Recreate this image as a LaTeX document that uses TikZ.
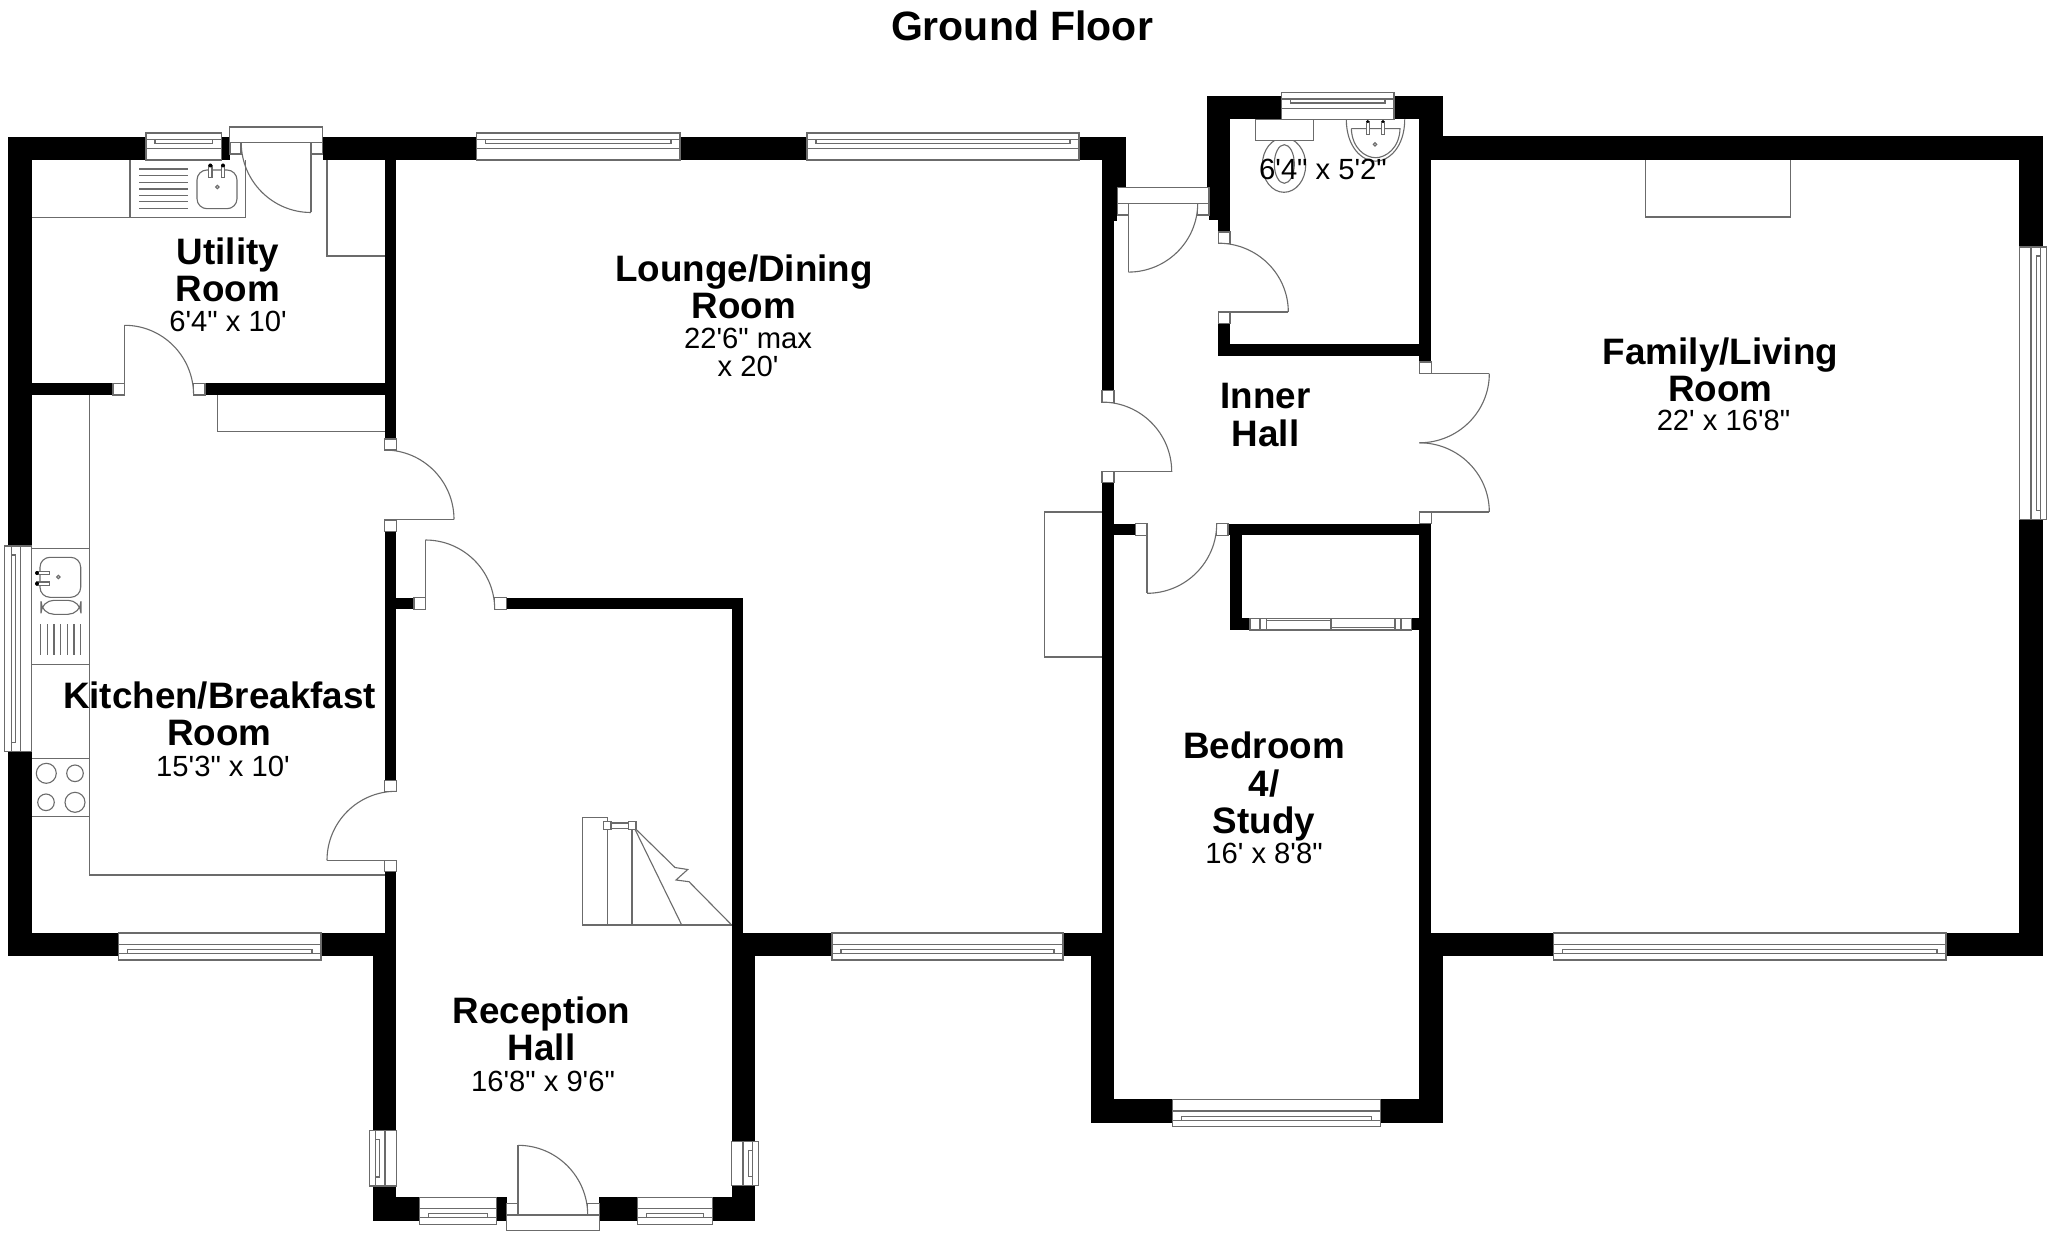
\documentclass[tikz,border=0pt]{standalone}
\usepackage{fontspec}
\newfontfamily\lab{Liberation Sans}
\usetikzlibrary{calc}
\definecolor{fix}{gray}{0.42}
\newcommand{\roomfont}{\lab\bfseries\fontsize{18.4}{18.6}\selectfont}
\newcommand{\dimfont}{\lab\fontsize{14.6}{15}\selectfont}
\tikzset{
  fixt/.style={draw=fix,line width=0.55pt,fill=white},
  fixl/.style={draw=fix,line width=0.55pt},
  roomlabel/.style={align=center,inner sep=0pt,font=\roomfont,text=black},
  dimlabel/.style={inner sep=0pt,font=\dimfont,text=black}
}
\newcommand{\wall}[4]{\fill[black] (#1,#2) rectangle (#3,#4);}
\newcommand{\jamb}[4]{\draw[fixt] (#1,#2) rectangle (#3,#4);}
% quarter arc from (1,2) to (3,4) about (5,6)
\newcommand{\qarc}[6]{%
  \pgfmathsetmacro\qax{#1+0.5523*(#3-#5)}\pgfmathsetmacro\qay{#2+0.5523*(#4-#6)}%
  \pgfmathsetmacro\qbx{#3+0.5523*(#1-#5)}\pgfmathsetmacro\qby{#4+0.5523*(#2-#6)}%
  \draw[fixl] (#1,#2) .. controls (\qax,\qay) and (\qbx,\qby) .. (#3,#4);}
% door: hinge (1,2), leaf tip (3,4), latch end (5,6)
\newcommand{\door}[6]{\draw[fixl] (#1,#2) -- (#3,#4);\qarc{#3}{#4}{#5}{#6}{#1}{#2}}
% horizontal window: x1 x2 outer-y sign
\newcommand{\hwin}[4]{%
  \pgfmathsetmacro\wina{#3+6.5*#4}\pgfmathsetmacro\winb{#3+10.5*#4}\pgfmathsetmacro\winc{#3+15.7*#4}\pgfmathsetmacro\wind{#3+27*#4}%
  \pgfmathsetmacro\winl{#1+9}\pgfmathsetmacro\winr{#2-9}%
  \draw[fixt] (#1,#3) rectangle (#2,\wind);\draw[fixt] (#1,\wina) rectangle (#2,\winc);\draw[fixt] (\winl,\wina) rectangle (\winr,\winb);}
% vertical window: y1 y2 outer-x sign
\newcommand{\vwin}[4]{%
  \pgfmathsetmacro\wina{#3+6.5*#4}\pgfmathsetmacro\winb{#3+10.5*#4}\pgfmathsetmacro\winc{#3+15.7*#4}\pgfmathsetmacro\wind{#3+27*#4}%
  \pgfmathsetmacro\winl{#1+9}\pgfmathsetmacro\winr{#2-9}%
  \draw[fixt] (#3,#1) rectangle (\wind,#2);\draw[fixt] (\wina,#1) rectangle (\winc,#2);\draw[fixt] (\wina,\winl) rectangle (\winb,\winr);}
\begin{document}
\begin{tikzpicture}[x=0.5pt,y=-0.5pt]
\useasboundingbox (0,0) rectangle (2048,1235);
\fill[white] (0,0) rectangle (2048,1235);
% ---- fixtures under the walls
\draw[fixl] (32,217.7) -- (245.7,217.7) -- (245.7,160);
\draw[fixl] (130,160) -- (130,217.7);
\foreach \yy in {169,175.7,182.3,189,195.7,201.7,208.3} \draw[fixl] (139,\yy) -- (188,\yy);
\draw[fixl,rounded corners=5pt] (197,170) rectangle (237,208.7);
\foreach \xx in {210.3,223} {\draw[fixt] (\xx-1.7,166) rectangle (\xx+1.7,177.5);\fill[black] (\xx,165.5) circle[radius=2];}
\draw[fixl] (217.3,187) circle[radius=1.7];
\draw[fixl] (327,160) -- (327,256) -- (385,256);
\draw[fixl] (217.3,395) -- (217.3,431.3) -- (385,431.3);
\draw[fixl] (89.7,395) -- (89.7,875) -- (385,875);
\draw[fixl] (32,548.3) -- (89.7,548.3);
\draw[fixl] (32,664.3) -- (89.7,664.3);
\draw[fixl] (32,758.7) -- (89.7,758.7);
\draw[fixl] (32,816.7) -- (89.7,816.7);
\draw[fixl,rounded corners=5pt] (40,557.3) rectangle (80.7,597.3);
\foreach \yy in {573,583.7} {\draw[fixt] (37,\yy-1.7) rectangle (49.7,\yy+1.7);\fill[black] (37,\yy) circle[radius=2];}
\draw[fixl] (58.3,577) circle[radius=1.7];
\draw[fixl,rounded corners=6.5pt] (41,600.3) rectangle (81,614.3);
\foreach \xx in {40.7,47.3,54,60.7,67.3,74,80.7} \draw[fixl] (\xx,624) -- (\xx,655.3);
\draw[fixl] (46.3,773.3) circle[radius=10];
\draw[fixl] (75,773.3) circle[radius=8.3];
\draw[fixl] (46,802.3) circle[radius=8.3];
\draw[fixl] (75,802.3) circle[radius=10];
% chimney breasts
\draw[fixl] (1102,512) -- (1044.8,512) -- (1044.8,657) -- (1102,657);
\draw[fixl] (1645.6,160) -- (1645.6,217) -- (1790.5,217) -- (1790.5,160);
% WC
\draw[fixl] (1284,165) ellipse[x radius=21.7,y radius=27.3];
\draw[fixl] (1284.3,164) ellipse[x radius=10,y radius=19.3];
\draw[fixt] (1255.7,119.3) rectangle (1313.3,140.3);
\draw[fixl] (1346.3,119.3) .. controls (1346.3,147) and (1362,161.2) .. (1375.5,161.2) .. controls (1389,161.2) and (1404.7,147) .. (1404.7,119.3);
\draw[fixl] (1351.3,128.6) -- (1400,128.6) .. controls (1399.5,148) and (1386,157.7) .. (1375.5,157.7) .. controls (1365,157.7) and (1352,148) .. (1351.3,128.6);
\foreach \xx in {1367.7,1383} {\draw[fixt] (\xx-1.5,122) rectangle (\xx+1.5,134.3);\fill[black] (\xx,121.5) circle[radius=1.7];}
\draw[fixl] (1375,144.3) circle[radius=1.7];
% stairs
\draw[fixl] (607.3,817.3) -- (582.7,817.3) -- (582.7,925) -- (731.7,925);
\draw[fixl] (607.3,817.3) -- (607.3,925);
\draw[fixl] (632,829.3) -- (632,925);
\draw[fixl] (634,827.3) -- (681.7,925);
\draw[fixl] (636,829.3) -- (675,867.5) -- (687.7,869.5) -- (676,880) -- (689,881.7) -- (731.7,925);
\draw[fixl] (611,823) -- (628.3,823);
\draw[fixl] (611,828.5) -- (628.3,828.5);
\jamb{603.3}{821.7}{611}{829.3}
\jamb{628.3}{821.7}{636}{829.3}
% ---- walls
\wall{8}{136.7}{32}{546}
\wall{8}{751.7}{32}{956}
\wall{8}{136.7}{146}{160}
\wall{221.7}{136.7}{229.5}{160}
\wall{322.5}{136.7}{476.7}{160}
\wall{680}{136.7}{807}{160}
\wall{1079}{136.7}{1125.7}{160}
\wall{1101.7}{136.7}{1125.7}{188}
\wall{1101.7}{188}{1117.3}{221}
\wall{1102}{188}{1114}{390.7}
\wall{1102}{482.9}{1114.2}{933}
\wall{384.7}{160}{396.3}{439}
\wall{32}{383.3}{113}{395}
\wall{205}{383.3}{385}{395}
\wall{384.7}{531.7}{396.3}{780.3}
\wall{396}{597.7}{414}{609.3}
\wall{506.3}{597.7}{743.3}{609.3}
\wall{731.7}{609}{743.3}{933.3}
\wall{8}{932.7}{118.3}{956}
\wall{321}{932.7}{396.3}{956}
\wall{384.7}{871.7}{396.3}{932.7}
\wall{372.7}{956}{396.3}{1130.7}
\wall{372.7}{1186}{396.3}{1220.7}
\wall{372.7}{1197.3}{419.3}{1220.7}
\wall{496.3}{1197.3}{506.7}{1220.7}
\wall{599}{1197.3}{637.3}{1220.7}
\wall{712.3}{1197.3}{755}{1220.7}
\wall{731.7}{1185.3}{755}{1220.7}
\wall{731.7}{933.3}{755}{1141.7}
\wall{731.7}{933.3}{832}{956}
\wall{1063}{932.7}{1102.2}{956}
\wall{1091}{932.7}{1114.2}{1122.7}
\wall{1091}{1099.3}{1172.8}{1122.7}
\wall{1380.7}{1099.3}{1443.1}{1122.7}
\wall{1419.2}{932.7}{1443.1}{1122.7}
\wall{1419.2}{535.4}{1431.1}{933}
\wall{1431.1}{932.7}{1553.4}{956}
\wall{1946}{932.7}{2042.7}{956}
\wall{2019.3}{519.3}{2042.7}{956}
\wall{2019.3}{136.7}{2042.7}{247}
\wall{1431}{136.5}{2042.7}{160.2}
\wall{1419.3}{96}{1442.7}{160.2}
\wall{1419.3}{160}{1431.3}{362}
\wall{1394}{96}{1442.7}{119.3}
\wall{1207}{96}{1281.7}{119.3}
\wall{1207}{96}{1230}{188}
\wall{1209}{188}{1230}{220.4}
\wall{1218.3}{220}{1230}{232}
\wall{1218.3}{323.6}{1230}{356}
\wall{1218.3}{343.6}{1431.3}{356}
\wall{1114}{523.6}{1135.7}{535.4}
\wall{1228}{523.6}{1431.3}{535.4}
\wall{1230.3}{535.4}{1242.3}{630}
\wall{1230.3}{618.2}{1250}{630}
\wall{1411.7}{618.2}{1419.3}{630}
% ---- windows
\hwin{146}{221.7}{133}{1}
\hwin{476.7}{680}{133}{1}
\hwin{807}{1079}{133}{1}
\hwin{1281.7}{1394}{92.5}{1}
\hwin{118.3}{321}{960}{-1}
\hwin{832}{1063}{960}{-1}
\hwin{1553.4}{1946}{960}{-1}
\hwin{1172.8}{1380.7}{1126.7}{-1}
\hwin{419.3}{496.3}{1224.3}{-1}
\hwin{637.3}{712.3}{1224.3}{-1}
\vwin{546}{751.7}{4.7}{1}
\vwin{1130.7}{1186}{369.3}{1}
\vwin{1141.7}{1185.3}{758.7}{-1}
\vwin{247}{519.3}{2046.7}{-1}
% ---- sliding door of the cupboard
\draw[fixt] (1250,618.2) rectangle (1411.7,630);
\draw[fixl] (1260,618.2) -- (1260,630);
\draw[fixl] (1266.7,618.2) -- (1266.7,630);
\draw[fixl] (1395,618.2) -- (1395,630);
\draw[fixl] (1401,618.2) -- (1401,630);
\draw[fixl] (1331,618.2) -- (1331,630);
\draw[fixl] (1266.7,620.7) -- (1331,620.7);
\draw[fixl] (1331,627.5) -- (1395,627.5);
% ---- door frames, jambs, leaves
\jamb{229.5}{127}{322.5}{142.3}
\jamb{230}{142.3}{241}{154}
\jamb{311}{142.3}{322.5}{154}
\door{311}{142.3}{311}{212.5}{241.2}{142.3}
\jamb{113}{383.3}{124.7}{395}
\jamb{193.3}{383.3}{205}{395}
\door{124.7}{395}{124.7}{325.3}{193.6}{395}
\jamb{384.7}{439}{396.3}{450}
\jamb{384.7}{520}{396.3}{531.7}
\door{384.7}{519.5}{454}{519.5}{384.7}{450}
\jamb{384.7}{780.3}{396.3}{791.3}
\jamb{384.7}{860.3}{396.3}{871.7}
\door{396}{860.3}{327}{860.3}{396}{791.3}
\jamb{414}{597.7}{425.3}{609.3}
\jamb{494.7}{597.7}{506.3}{609.3}
\door{425.3}{609.3}{425.3}{540}{494.7}{609.3}
\jamb{506.7}{1215}{599.3}{1230.3}
\jamb{506.7}{1203.3}{518}{1215}
\jamb{587.7}{1203.3}{599.3}{1215}
\door{518}{1215}{518}{1145.3}{587.7}{1215}
\jamb{1117.3}{187.9}{1209}{203.2}
\jamb{1117.3}{203.2}{1128.3}{215}
\jamb{1197.7}{203.2}{1209}{215}
\door{1128.3}{203.2}{1128.3}{272.1}{1197.7}{203.2}
\jamb{1218.3}{232}{1230}{243.2}
\jamb{1218.3}{312}{1230}{323.6}
\door{1218.3}{312}{1288.3}{312}{1218.3}{243.2}
\jamb{1102}{390.7}{1114}{402.1}
\jamb{1102}{471.8}{1114}{482.9}
\door{1102}{471.8}{1171.7}{471.8}{1102}{402.1}
\jamb{1135.7}{523.6}{1147}{535.4}
\jamb{1216.7}{523.6}{1228}{535.4}
\door{1147}{523.6}{1147}{593.3}{1216.7}{523.6}
\jamb{1419.3}{362}{1431.3}{373.6}
\jamb{1419.3}{512}{1431.3}{523.6}
\door{1419.3}{373.6}{1489.3}{373.6}{1419.3}{442.8}
\door{1419.3}{512}{1489.3}{512}{1419.3}{442.8}
% ---- labels
\node[roomlabel] (title) at (1022,26) {\fontsize{20.5}{22}\selectfont Ground Floor};
\node[roomlabel] (utility) at (228,269.5) {Utility\\Room};
\node[dimlabel,anchor=base] (utilityd) at (228,331.5) {6'4" x 10'};
\node[roomlabel] (lounge) at (744,286.5) {Lounge/Dining\\Room};
\node[dimlabel,anchor=base] (lounged) at (748,348.5) {22'6" max};
\node[dimlabel,anchor=base] (lounged2) at (748,376) {x 20'};
\node[roomlabel] (family) at (1720.5,369.5) {Family/Living\\Room};
\node[dimlabel,anchor=base] (familyd) at (1723.5,430) {22' x 16'8"};
\node[roomlabel] (inner) at (1265.5,415) {Inner\\Hall};
\node[roomlabel] (bedroom) at (1264,786.5) {Bedroom\\4/\\Study};
\node[dimlabel,anchor=base] (bedroomd) at (1264,863.5) {16' x 8'8"};
\node[roomlabel] (reception) at (541.5,1028.5) {Reception\\Hall};
\node[dimlabel,anchor=base] (receptiond) at (543,1091) {16'8" x 9'6"};
\node[roomlabel] (kitchen) at (219.5,714) {Kitchen/Breakfast\\Room};
\node[dimlabel,anchor=base] (kitchend) at (223,776) {15'3" x 10'};
\node[dimlabel,anchor=base] (wcd) at (1323,179.3) {6'4" x 5'2"};
\end{tikzpicture}
\end{document}
